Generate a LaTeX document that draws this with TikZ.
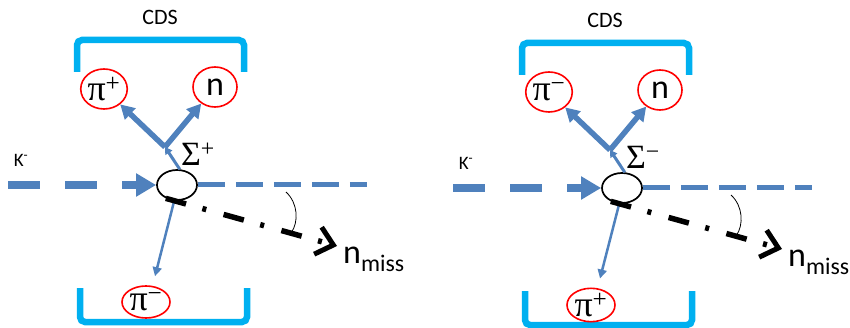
\documentclass[tikz,border=0pt]{standalone}
\usepackage{fontspec}
\setmainfont{Carlito}
\newfontfamily\grk{Liberation Serif}
\usetikzlibrary{arrows.meta,shapes.geometric,calc}
\definecolor{beamblue}{RGB}{79,129,189}
\definecolor{cdsblue}{RGB}{0,176,240}
\tikzset{
	cdswall/.style={cdsblue, line width=6.5pt, rounded corners=5pt},
	ring/.style={draw=red, line width=1.6pt, ellipse, inner sep=0pt, minimum width=44pt, minimum height=40pt},
	vertex/.style={draw, line width=1.7pt, ellipse, inner sep=0pt, minimum width=40pt, minimum height=30pt},
	beam/.style={beamblue, line width=8pt, dash pattern=on 32pt off 25pt},
	track/.style={beamblue, line width=5.5pt},
	missline/.style={black, line width=5.5pt, dash pattern=on 21pt off 17pt on 4pt off 18pt}
}
\newcommand{\kdecay}[5]{%
	\begin{scope}[shift={#2}]
		\node[font=\fontsize{22}{26}\selectfont] (#1cds) at (160,17) {CDS};
		\draw[cdswall] (77,72) -- (77,40) -- (244,40) -- (244,72);
		\draw[cdswall] (80,288) -- (80,322) -- (247,322) -- (247,288);
		
		\node[ring, font=\grk\fontsize{36}{40}\selectfont] (#1pup) at (104,89) {π\textsuperscript{#4}};
		\node[ring, font=\fontsize{34}{38}\selectfont] (#1n) at (215,87) {n};
		\node[ring, minimum width=48pt, minimum height=32pt, font=\grk\fontsize{36}{40}\selectfont] (#1pdn) at (146,302) {π\textsuperscript{#5}};
		\node[vertex] (#1vtx) at (177,185) {};
		
		\node[font=\fontsize{19}{22}\selectfont] (#1k) at (21,160) {K\textsuperscript{-}};
		\node[font=\grk\fontsize{34}{38}\selectfont] (#1sig) at (198,154) {Σ\textsuperscript{#3}};
		\node[anchor=base west, inner sep=0pt, font=\fontsize{34}{38}\selectfont] (#1nm) at (343,264) {n\textsubscript{miss}};
		
		\coordinate (#1kin) at (8,185);
		\coordinate (#1kout) at (367,185);
		\coordinate (#1fork) at (165,147);
		\coordinate (#1nend) at (337,246);
		
		\draw[beam, -{Triangle[length=20pt,width=22pt]}] (#1kin) -- (#1vtx.west);
		\draw[beam, line width=5pt, dash pattern=on 27pt off 11pt] (#1vtx.east) -- (#1kout);
		\draw[track, line width=3pt, -{Triangle[length=7pt,width=8pt]}] (#1vtx.80) -- (#1fork);
		\draw[track, -{Triangle[length=14pt,width=15pt]}] (#1fork) -- (#1pup);
		\draw[track, -{Triangle[length=14pt,width=15pt]}] (#1fork) -- (#1n);
		\draw[track, line width=2.5pt, -{Triangle[length=9pt,width=9pt]}] (#1vtx.-100) -- ([shift={(9,-9)}]#1pdn.north);
		\draw[missline, -{Straight Barb[length=16pt,width=28pt,line width=5pt]}] (#1vtx.-130) -- (#1nend);
		\draw[line width=0.8pt] (286,192) .. controls (298,203) and (299,222) .. (291,233);
	\end{scope}
}
\begin{document}
\begin{tikzpicture}[x=1pt,y=-1pt]
	\useasboundingbox (0,0) rectangle (850,328);
	\kdecay{L}{(0,0)}{+}{+}{−}
	\kdecay{R}{(445,3)}{−}{−}{+}
\end{tikzpicture}
\end{document}
